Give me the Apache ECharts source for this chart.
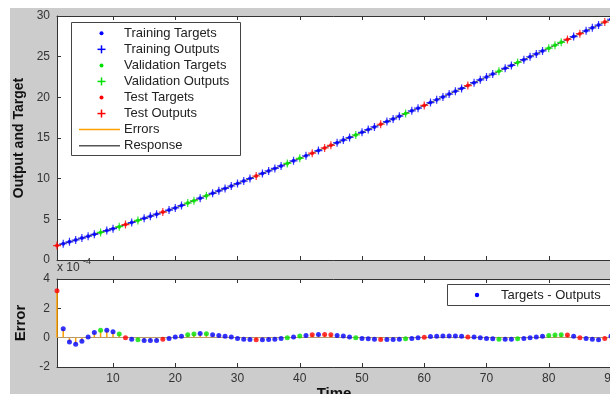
<!DOCTYPE html>
<html>
<head>
<meta charset="utf-8">
<script src="https://cdn.jsdelivr.net/npm/echarts@6/dist/echarts.min.js"></script>
<style>
  html, body { margin: 0; padding: 0; background: #fff; }
  #chart_div { width: 610px; height: 394px; }
</style>
</head>
<body>
<div id="chart_div"></div>
<script>
// target values, one per time step (1..90)
var targets = [
  1.77, 2.00, 2.23, 2.46, 2.69, 2.92, 3.16, 3.39, 3.62, 3.85,
  4.10, 4.36, 4.61, 4.87, 5.12, 5.38, 5.63, 5.89, 6.14, 6.40,
  6.70, 7.00, 7.30, 7.60, 7.90, 8.20, 8.50, 8.80, 9.10, 9.40,
  9.71, 10.02, 10.33, 10.64, 10.95, 11.26, 11.57, 11.88, 12.19, 12.50,
  12.82, 13.14, 13.46, 13.78, 14.10, 14.42, 14.74, 15.06, 15.38, 15.70,
  16.03, 16.36, 16.69, 17.02, 17.35, 17.68, 18.01, 18.34, 18.67, 19.00,
  19.35, 19.70, 20.05, 20.40, 20.75, 21.10, 21.45, 21.80, 22.15, 22.50,
  22.86, 23.21, 23.57, 23.92, 24.28, 24.63, 24.99, 25.34, 25.70, 26.05,
  26.41, 26.76, 27.12, 27.47, 27.83, 28.18, 28.54, 28.89, 29.25, 29.60
];
// error (targets - outputs), in units of 1e-4
var errors = [
  3.2, 0.6, -0.3, -0.45, -0.25, 0.05, 0.35, 0.5, 0.5, 0.4,
  0.25, 0.0, -0.1, -0.15, -0.2, -0.2, -0.2, -0.1, -0.05, 0.05,
  0.1, 0.2, 0.25, 0.28, 0.27, 0.2, 0.15, 0.1, 0.05, -0.05,
  -0.1, -0.12, -0.15, -0.15, -0.12, -0.1, -0.05, 0.0, 0.05, 0.12,
  0.15, 0.2, 0.22, 0.22, 0.2, 0.15, 0.12, 0.05, 0.0, -0.05,
  -0.08, -0.1, -0.12, -0.12, -0.12, -0.1, -0.08, -0.05, 0.0, 0.02,
  0.08, 0.1, 0.12, 0.12, 0.12, 0.1, 0.05, 0.05, 0.0, -0.05,
  -0.08, -0.1, -0.1, -0.1, -0.08, -0.05, 0.0, 0.05, 0.1, 0.15,
  0.18, 0.2, 0.18, 0.1, 0.0, -0.05, -0.1, -0.15, -0.05, 0.1
];
// T = training, V = validation, S = test
var subset = [
  'S','T','T','T','T','T','T','V','T','T',
  'V','S','T','V','T','T','T','S','T','T',
  'T','V','V','T','V','T','T','T','T','T',
  'T','T','S','T','T','T','T','V','T','V',
  'T','S','T','S','S','T','T','T','V','T',
  'T','T','S','T','T','T','V','T','T','S',
  'T','T','T','T','T','T','S','T','T','T',
  'T','V','T','T','V','T','T','T','T','V',
  'V','V','S','T','S','T','T','T','S','T'
];
var xTicks = [10, 20, 30, 40, 50, 60, 70, 80, 90];
var groups = [
  { code: 'T', name: 'Training', color: '#0000ff' },
  { code: 'V', name: 'Validation', color: '#00e000' },
  { code: 'S', name: 'Test', color: '#ff0000' }
];

var plusIcon = 'path://M0,3.4H8V4.6H0Z M3.4,0H4.6V8H3.4Z';

var myChart = echarts.init(document.getElementById('chart_div'));

var outputs = [], response = [], stems = [];
for (var i = 0; i < targets.length; i++) {
  var o = targets[i] - errors[i] * 1e-4;
  outputs.push(o);
  response.push([i + 1, o]);
  stems.push([i + 1, errors[i]]);
}

var series = [];
series.push({
  name: 'Response', type: 'line', xAxisIndex: 0, yAxisIndex: 0,
  data: response, symbol: 'none', lineStyle: { color: '#444', width: 1 }, z: 1
});
groups.forEach(function (g) {
  var tg = [], op = [], er = [];
  for (var i = 0; i < targets.length; i++) {
    if (subset[i] !== g.code) continue;
    tg.push([i + 1, targets[i]]);
    op.push([i + 1, outputs[i]]);
    er.push([i + 1, errors[i]]);
  }
  series.push({
    name: g.name + ' Targets', type: 'scatter', xAxisIndex: 0, yAxisIndex: 0,
    data: tg, symbol: 'circle', symbolSize: 4, itemStyle: { color: g.color }, z: 3
  });
  series.push({
    name: g.name + ' Outputs', type: 'scatter', xAxisIndex: 0, yAxisIndex: 0,
    data: op, symbol: plusIcon, symbolSize: 8, itemStyle: { color: g.color }, z: 4
  });
  series.push({
    name: g.name + ' Errors', type: 'scatter', xAxisIndex: 2, yAxisIndex: 1,
    data: er, symbol: 'circle', symbolSize: 5, itemStyle: { color: g.color }, z: 5
  });
});
series.push({
  name: 'Errors', type: 'bar', xAxisIndex: 2, yAxisIndex: 1,
  data: stems, barWidth: 1.5, itemStyle: { color: '#ffa000' }, z: 2,
  markLine: {
    silent: true, symbol: 'none', label: { show: false },
    lineStyle: { color: '#b89a6a', width: 1, type: 'solid' },
    data: [{ yAxis: 0 }]
  }
});

var axisLine = { show: true, onZero: false, lineStyle: { color: '#333', width: 1 } };
var tickIn = { show: true, inside: true, length: 4, lineStyle: { color: '#333' } };
var lbl = { fontFamily: 'Arial', fontSize: 12, color: '#333' };

function xAx(grid, pos, showLabel, extra) {
  var a = {
    type: 'value', gridIndex: grid, position: pos, min: 1, max: 90,
    axisLine: axisLine, splitLine: { show: false },
    axisTick: Object.assign({ customValues: xTicks }, tickIn),
    axisLabel: Object.assign({ show: showLabel, margin: 6, customValues: xTicks }, lbl)
  };
  return Object.assign(a, extra || {});
}

var legendRows = [
  { text: 'Training Targets', kind: 'dot', color: '#0000ff' },
  { text: 'Training Outputs', kind: 'plus', color: '#0000ff' },
  { text: 'Validation Targets', kind: 'dot', color: '#00e000' },
  { text: 'Validation Outputs', kind: 'plus', color: '#00e000' },
  { text: 'Test Targets', kind: 'dot', color: '#ff0000' },
  { text: 'Test Outputs', kind: 'plus', color: '#ff0000' },
  { text: 'Errors', kind: 'line', color: '#ffa000' },
  { text: 'Response', kind: 'line', color: '#555' }
];

var graphics = [
  { type: 'rect', shape: { x: 0, y: 0, width: 10, height: 394 }, style: { fill: '#fff' } },
  { type: 'rect', shape: { x: 0, y: 0, width: 610, height: 8 }, style: { fill: '#fff' } },
  { type: 'rect', z: 10, shape: { x: 71.5, y: 22.5, width: 169, height: 133 },
    style: { fill: '#fff', stroke: '#444', lineWidth: 1 } },
  { type: 'text', z: 11, left: 57, top: 262,
    style: { text: 'x 10', font: '12px Arial', fill: '#333' } },
  { type: 'text', z: 11, left: 83, top: 257,
    style: { text: '-4', font: '9px Arial', fill: '#333' } },
  { type: 'rect', z: 10, shape: { x: 447.5, y: 284.5, width: 180, height: 21 },
    style: { fill: '#fff', stroke: '#444', lineWidth: 1 } },
  { type: 'circle', z: 11, shape: { cx: 477, cy: 295, r: 2.2 }, style: { fill: '#0000ff' } },
  { type: 'text', z: 11, x: 501, y: 295,
    style: { text: 'Targets - Outputs', font: '13px Arial', fill: '#222', verticalAlign: 'middle' } }
];
legendRows.forEach(function (r, k) {
  var y = 33.3 + k * 16.05;
  if (r.kind === 'dot') {
    graphics.push({ type: 'circle', z: 11, shape: { cx: 101.5, cy: y, r: 2 }, style: { fill: r.color } });
  } else if (r.kind === 'plus') {
    graphics.push({ type: 'line', z: 11, shape: { x1: 97.5, y1: y, x2: 105.5, y2: y }, style: { stroke: r.color, lineWidth: 1.5 } });
    graphics.push({ type: 'line', z: 11, shape: { x1: 101.5, y1: y - 4, x2: 101.5, y2: y + 4 }, style: { stroke: r.color, lineWidth: 1.5 } });
  } else {
    graphics.push({ type: 'line', z: 11, shape: { x1: 79, y1: y, x2: 120, y2: y }, style: { stroke: r.color, lineWidth: 1.5 } });
  }
  graphics.push({ type: 'text', z: 11, x: 124, y: y,
    style: { text: r.text, font: '13px Arial', fill: '#222', verticalAlign: 'middle' } });
});

var option = {
  backgroundColor: '#cccccc',
  animation: false,
  grid: [
    { left: 57, top: 16, right: -1, height: 244, show: true, backgroundColor: '#fff', borderWidth: 0, outerBoundsMode: 'none' },
    { left: 57, top: 279, right: -1, height: 88, show: true, backgroundColor: '#fff', borderWidth: 0, outerBoundsMode: 'none' }
  ],
  xAxis: [
    xAx(0, 'bottom', false),
    xAx(0, 'top', false),
    xAx(1, 'bottom', true, {
      name: 'Time', nameLocation: 'middle', nameGap: 18,
      nameTextStyle: { fontFamily: 'Arial', fontWeight: 'bold', fontSize: 15, color: '#111', verticalAlign: 'top' }
    }),
    xAx(1, 'top', false)
  ],
  yAxis: [
    {
      type: 'value', gridIndex: 0, min: 0, max: 30, interval: 5,
      axisLine: axisLine, axisTick: tickIn, splitLine: { show: false },
      axisLabel: Object.assign({ margin: 7 }, lbl),
      name: 'Output and Target', nameLocation: 'middle', nameGap: 29, nameRotate: 90,
      nameTextStyle: { fontFamily: 'Arial', fontWeight: 'bold', fontSize: 14, color: '#111' }
    },
    {
      type: 'value', gridIndex: 1, min: -2, max: 4, interval: 2,
      axisLine: axisLine, axisTick: tickIn, splitLine: { show: false },
      axisLabel: Object.assign({ margin: 7 }, lbl),
      name: 'Error', nameLocation: 'middle', nameGap: 25, nameRotate: 90,
      nameTextStyle: { fontFamily: 'Arial', fontWeight: 'bold', fontSize: 15, color: '#111' }
    }
  ],
  series: series,
  graphic: graphics
};

myChart.setOption(option);
</script>
</body>
</html>
